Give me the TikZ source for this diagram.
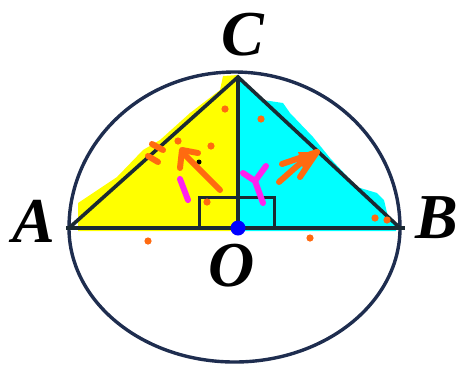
\documentclass[tikz,border=0pt]{standalone}
\usepackage{fontspec}
\setmainfont{Liberation Serif}
\definecolor{linecol}{HTML}{1B2A33}
\definecolor{ellcol}{HTML}{1E2D4F}
\definecolor{orng}{HTML}{FF6A10}
\definecolor{mgnt}{HTML}{FF22EE}
\definecolor{cyanfill}{HTML}{00FFFF}
\definecolor{yellowfill}{HTML}{FFFF00}
\begin{document}
\begin{tikzpicture}[x=1pt,y=1pt,
  geo/.style={line width=3.6pt,color=linecol},
  ell/.style={line width=3.4pt,color=ellcol},
  lbl/.style={font=\fontsize{64}{64}\selectfont\bfseries\itshape,inner sep=0pt},
  odot/.style={fill=orng,draw=none},
  ostroke/.style={line width=6pt,color=orng,line cap=round,line join=round},
  mstroke/.style={line width=6pt,color=mgnt,line cap=round,line join=round}]
\useasboundingbox (0,0) rectangle (465,-365);
% points
\coordinate (A) at (69,-228);
\coordinate (B) at (400,-228);
\coordinate (C) at (238,-77);
\coordinate (O) at (238,-228);
\coordinate (Aend) at (66,-228);
\coordinate (Bend) at (405,-228);
\coordinate (R1) at (199,-228);
\coordinate (R2) at (274,-197);
% fills
\fill[yellowfill] (78,-231) -- (78,-203) -- (93,-193) -- (117,-177) -- (143,-150) -- (160,-140) -- (190,-113) -- (220,-90) -- (223,-76) -- (238,-75) -- (238,-231) -- cycle;
\fill[cyanfill] (238,-77) -- (243,-80) -- (263,-100) -- (283,-103) -- (290,-113) -- (313,-137) -- (330,-158) -- (357,-187) -- (377,-193) -- (384,-200) -- (388,-217) -- (396,-226) -- (396,-231) -- (238,-231) -- cycle;
% ellipse (two halves)
\draw[ell] (B) arc[start angle=0,end angle=180,x radius=165.5,y radius=156];
\draw[ell] (A) arc[start angle=180,end angle=360,x radius=165.5,y radius=134];
% triangle
\draw[geo] (A) -- (C) -- (B);
\draw[geo] (C) -- (O);
\draw[geo] (Aend) -- (Bend);
\draw[geo,line width=3pt] (R1) rectangle (R2);
% centre dot
\fill[blue] (O) circle (7.5);
% labels
\node[lbl] (lA) at (34,-221) {A};
\node[lbl] (lB) at (437,-218) {B};
\node[lbl] (lC) at (243,-35) {C};
\node[lbl] (lO) at (232,-266) {O};
% orange dots
\foreach \p in {(225,-109),(261,-119),(178,-141),(211,-146),(207,-202),(148,-241),(310,-238),(375,-218),(387,-220)}
  \fill[odot] \p circle (3.6);
\fill[black] (199,-162) circle (2.5);
% orange marks
\draw[ostroke] (152,-144) -- (163,-150);
\draw[ostroke] (148,-156) -- (158,-162);
\draw[ostroke] (220,-190) -- (184,-154);
\draw[ostroke] (180,-168) -- (182,-150) -- (198,-153);
\draw[ostroke] (279,-182) .. controls (295,-168) and (303,-160) .. (317,-152);
\draw[ostroke] (282,-164) -- (317,-152) -- (300,-177);
\fill[orng] (298,-152) -- (319,-152) -- (304,-172) -- cycle;
% magenta marks
\draw[mstroke] (180,-179) -- (188,-200);
\draw[mstroke] (243,-173) -- (255,-181) -- (263,-203);
\draw[mstroke] (255,-181) -- (266,-166);
\end{tikzpicture}
\end{document}
